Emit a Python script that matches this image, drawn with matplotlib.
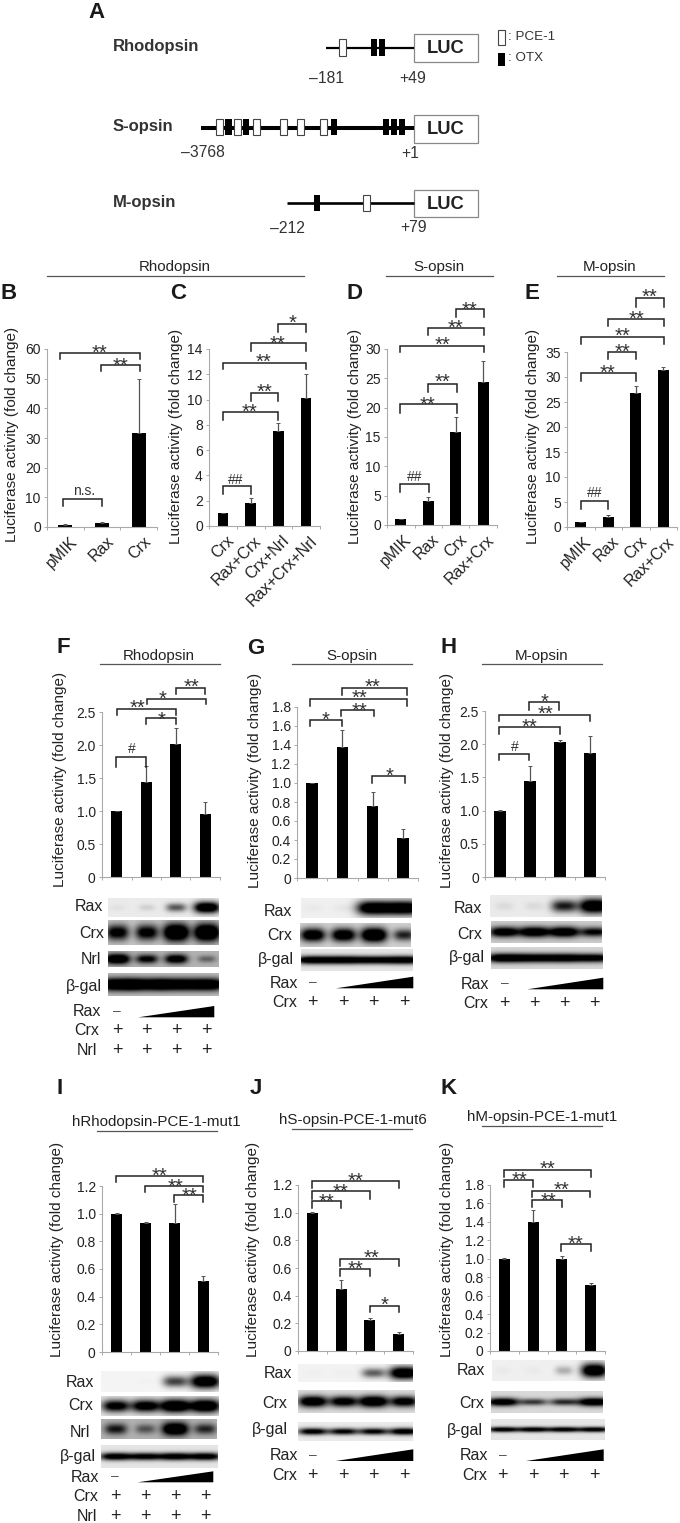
import numpy as np
import matplotlib
matplotlib.use("Agg")
import matplotlib.pyplot as plt
from matplotlib.patches import Rectangle, Polygon

plt.rcParams['font.family'] = ['Liberation Sans', 'DejaVu Sans']

W, H = 680, 1523
INK = '#222222'
AXIS = '#aaaaaa'

# -----------------------------
# Bar data
# -----------------------------
b_labels = ['pMIK', 'Rax', 'Crx']
b_vals = [0.7, 1.2, 31.8]
b_errs = [0.3, 0.6, 18.2]
b_ticks = [0, 10, 20, 30, 40, 50, 60]

c_labels = ['Crx', 'Rax+Crx', 'Crx+Nrl', 'Rax+Crx+Nrl']
c_vals = [1.0, 1.8, 7.55, 10.15]
c_errs = [0.02, 0.45, 0.6, 1.9]
c_ticks = [0, 2, 4, 6, 8, 10, 12, 14]

d_labels = ['pMIK', 'Rax', 'Crx', 'Rax+Crx']
d_vals = [1.0, 4.1, 15.8, 24.4]
d_errs = [0.02, 0.65, 2.6, 3.6]
d_ticks = [0, 5, 10, 15, 20, 25, 30]

e_labels = ['pMIK', 'Rax', 'Crx', 'Rax+Crx']
e_vals = [1.0, 2.1, 26.8, 31.5]
e_errs = [0.02, 0.25, 1.4, 0.5]
e_ticks = [0, 5, 10, 15, 20, 25, 30, 35]

f_vals = [1.0, 1.44, 2.01, 0.95]
f_errs = [0.005, 0.24, 0.25, 0.18]
f_ticks = ['0', '0.5', '1.0', '1.5', '2.0', '2.5']

g_vals = [1.0, 1.38, 0.76, 0.42]
g_errs = [0.005, 0.18, 0.15, 0.1]
g_ticks = ['0', '0.2', '0.4', '0.6', '0.8', '1.0', '1.2', '1.4', '1.6', '1.8']

h_vals = [1.0, 1.44, 2.03, 1.86]
h_errs = [0.005, 0.23, 0.03, 0.27]
h_ticks = ['0', '0.5', '1.0', '1.5', '2.0', '2.5']

i_vals = [1.0, 0.93, 0.93, 0.515]
i_errs = [0.002, 0.012, 0.14, 0.035]
i_ticks = ['0', '0.2', '0.4', '0.6', '0.8', '1.0', '1.2']

j_vals = [1.0, 0.45, 0.225, 0.125]
j_errs = [0.002, 0.065, 0.01, 0.012]
j_ticks = ['0', '0.2', '0.4', '0.6', '0.8', '1.0', '1.2']

k_vals = [1.0, 1.4, 1.0, 0.715]
k_errs = [0.005, 0.13, 0.025, 0.025]
k_ticks = ['0', '0.2', '0.4', '0.6', '0.8', '1.0', '1.2', '1.4', '1.6', '1.8']

# band strength per lane on the blots
f_blots = {'Rax': [0.03, 0.08, 0.45, 1.0], 'Crx': [0.7, 0.7, 1.0, 1.0],
           'Nrl': [0.85, 0.6, 0.7, 0.25], 'gal': [0.95, 0.9, 0.9, 0.9]}
g_blots = {'Rax': [0.02, 0.03, 1.0, 1.0], 'Crx': [0.85, 0.85, 1.0, 0.55],
           'gal': [0.9, 0.9, 0.85, 0.9]}
h_blots = {'Rax': [0.05, 0.05, 0.65, 1.0], 'Crx': [0.8, 0.85, 0.85, 0.65],
           'gal': [0.9, 0.85, 0.85, 0.8]}
i_blots = {'Rax': [0.0, 0.01, 0.55, 1.0], 'Crx': [0.8, 0.85, 1.0, 1.0],
           'Nrl': [0.5, 0.3, 0.85, 0.45], 'gal': [0.85, 0.8, 0.85, 0.85]}
j_blots = {'Rax': [0.01, 0.01, 0.45, 1.0], 'Crx': [0.9, 0.8, 0.95, 0.8],
           'gal': [0.8, 0.75, 0.75, 0.85]}
k_blots = {'Rax': [0.02, 0.02, 0.2, 1.0], 'Crx': [0.85, 0.5, 0.55, 0.9],
           'gal': [0.8, 0.8, 0.8, 0.8]}

fig = plt.figure(figsize=(W / 100, H / 100), dpi=100, facecolor='white')

# overlay in pixel coordinates for the annotations
ov = fig.add_axes([0, 0, 1, 1], zorder=5)
ov.set_xlim(0, W)
ov.set_ylim(H, 0)
ov.axis('off')


def txt(x, y, s, size=9.5, ha='center', va='center', color=INK, **kw):
    ov.text(x, y, s, fontsize=size, ha=ha, va=va, color=color, **kw)


def letter(x, y, s):
    txt(x, y, s, size=16, ha='left', weight='bold', color='#1a1a1a')


def header(cx, cy, s, x0, x1, ly):
    txt(cx, cy, s, size=10.9)
    ov.plot([x0, x1], [ly, ly], color='#555555', lw=0.9)


def bar_panel(x0, x1, ytop, y0, vals, errs, ymax, ticks, ylab_x, ylab_y, labels=None):
    ax = fig.add_axes([x0 / W, 1 - y0 / H, (x1 - x0) / W, (y0 - ytop) / H])
    n = len(vals)
    xs = np.arange(n) + 0.5
    ax.bar(xs, vals, width=0.385, color='black')
    ax.errorbar(xs, vals, yerr=[np.zeros(n), errs], fmt='none', ecolor='#555555',
                elinewidth=0.9, capsize=1.5, capthick=0.7)
    ax.set_xlim(0, n)
    ax.set_ylim(0, ymax)
    vals_t = [float(t) for t in ticks]
    ax.set_yticks(vals_t)
    ax.set_yticklabels([str(t) for t in ticks], fontsize=10, color=INK)
    ax.set_xticks(np.arange(n + 1))
    ax.set_xticklabels([])
    ax.tick_params(axis='both', length=2.5, width=0.7, color=AXIS, pad=2)
    for s in ['top', 'right']:
        ax.spines[s].set_visible(False)
    for s in ['left', 'bottom']:
        ax.spines[s].set_color(AXIS)
        ax.spines[s].set_linewidth(0.8)
    if labels:
        for x, lab in zip(xs, labels):
            ax.annotate(lab, (x + 0.12, 0), xytext=(0, -5), textcoords='offset points',
                        rotation=45, ha='right', va='top', rotation_mode='anchor',
                        fontsize=11.5, color=INK, annotation_clip=False)
    txt(ylab_x, ylab_y, 'Luciferase activity (fold change)', size=11, rotation=90)
    return ax


def bracket(x0, x1, y, yb, lab, lx, ly):
    ov.plot([x0, x0, x1, x1], [yb, y, y, yb], color='#222222', lw=1.1, solid_joinstyle='miter')
    if '*' in lab:
        ov.text(lx, ly + 11.5, lab, fontsize=14.5, ha='center', va='baseline', color='#333333')
    else:
        txt(lx, ly, lab, size=10, color='#333333')


def blot(x0, x1, y0, y1, lanes, strength, bg=0.12, sig=0.26, y_c=0.5, hw=13.0):
    # blurred horizontal bands on a light grey ground
    xx = np.arange(x0, x1, 0.5)
    yy = np.linspace(0, 1, 60)
    dark = np.zeros((len(yy), len(xx)))
    for lx, s in zip(lanes, strength):
        gx = np.exp(-np.abs((xx - lx) / (hw * (0.6 + 0.4 * s))) ** 3)
        gy = np.exp(-((yy - y_c) / (sig * (0.55 + 0.45 * s))) ** 2)
        dark += 1.3 * s * np.outer(gy, gx)
    img = 1 - np.clip(bg + dark, 0, 1)
    ov.imshow(img, extent=[x0, x1, y1, y0], cmap='gray', vmin=0, vmax=1, aspect='auto',
              interpolation='bilinear', zorder=1)
    ov.set_xlim(0, W)
    ov.set_ylim(H, 0)


def wedge(x0, x1, yt, yb):
    ov.add_patch(Polygon([[x0, yb], [x1, yt], [x1, yb]], closed=True, fc='black', ec='none'))


def treat_rows(rows, plus_xs, dash_x, wedge_box):
    # rows: (label, right edge, y); the first row carries the wedge
    lab, rx, y = rows[0]
    txt(rx, y, lab, size=11.5, ha='right')
    txt(dash_x, y - 1, '\u2013', size=10, color='#555555')
    wedge(*wedge_box)
    for lab, rx, y in rows[1:]:
        txt(rx, y, lab, size=11.5, ha='right')
        for px in plus_xs:
            txt(px, y, '+', size=13)


# -----------------------------
# Panel A: promoter constructs
# -----------------------------
letter(88, 12, 'A')


def construct(name, name_y, line_x0, line_y, lw, box_y0, box_y1, el_y0, el_y1, pce, otx):
    txt(112.7, name_y, name, size=12, ha='left', weight='bold', color='#333333')
    ov.plot([line_x0, 414], [line_y, line_y], color='black', lw=lw, solid_capstyle='butt')
    ov.add_patch(Rectangle((414, box_y0), 64, box_y1 - box_y0, fc='white', ec='#888888', lw=0.9))
    txt(446, (box_y0 + box_y1) / 2 + 0.5, 'LUC', size=13.2, weight='bold', color='#222222')
    for a, b in pce:
        ov.add_patch(Rectangle((a, el_y0), b - a, el_y1 - el_y0, fc='white', ec='#444444', lw=0.8, zorder=3))
    for a, b in otx:
        ov.add_patch(Rectangle((a, el_y0), b - a, el_y1 - el_y0, fc='black', ec='none', zorder=3))


construct('Rhodopsin', 46, 325.7, 47.7, 1.6, 34, 62, 39.3, 56,
          [(339.3, 345.7)], [(371, 376.7), (379.3, 385.3)])
construct('S-opsin', 126, 200.7, 128, 2.9, 115, 143, 119.3, 135.3,
          [(216, 222.7), (234.3, 241), (253.3, 260), (280.3, 286.7), (297, 303.7), (320.3, 327)],
          [(225, 231.7), (242.7, 249), (331, 337), (382.7, 388.7), (390.7, 396.7), (399.3, 405)])
construct('M-opsin', 202.7, 287.3, 202.7, 1.9, 190, 217, 195, 210.7,
          [(363.3, 369.7)], [(314.3, 320)])
for x, y, s in [(326.7, 78, '\u2013181'), (412.3, 78, '+49'), (203.3, 152.7, '\u20133768'),
                (410, 153, '+1'), (287.3, 228.7, '\u2013212'), (413.3, 227, '+79')]:
    txt(x, y, s, size=11.3, color='#333333')
ov.add_patch(Rectangle((498.3, 30), 6.4, 15.3, fc='white', ec='#444444', lw=0.8))
ov.add_patch(Rectangle((498.3, 52.7), 6.4, 13.3, fc='black', ec='none'))
txt(508.3, 36.7, ': PCE-1', size=9.6, ha='left', color='#333333')
txt(508.3, 58.3, ': OTX', size=9.6, ha='left', color='#333333')

# -----------------------------
# Panels B-E: reporter assays
# -----------------------------
header(175, 267, 'Rhodopsin', 46.7, 304, 276)
header(439.3, 267, 'S-opsin', 386, 492.7, 276)
header(610, 267, 'M-opsin', 557.3, 664, 276)
letter(1, 293, 'B')
letter(170, 293, 'C')
letter(346.7, 293, 'D')
letter(524, 293, 'E')

bar_panel(47, 157, 349, 527, b_vals, b_errs, 60, b_ticks, 12.3, 434, b_labels)
bar_panel(209, 320, 349, 526, c_vals, c_errs, 14, c_ticks, 175.7, 436.7, c_labels)
bar_panel(387, 497, 349, 525, d_vals, d_errs, 30, d_ticks, 355, 436.7, d_labels)
bar_panel(567, 677, 352, 527, e_vals, e_errs, 35, e_ticks, 533.3, 436.7, e_labels)

for br in [(60.3, 140.3, 353, 358.7, '**', 100, 347.7),
           (100.7, 140, 365.3, 371, '**', 120.7, 360),
           (63.3, 102.3, 499.3, 505.7, 'n.s.', 84, 490.7),
           (278.3, 305.7, 324, 331.7, '*', 292.7, 317),
           (250.7, 305.7, 343.3, 350.7, '**', 278, 338.3),
           (222.7, 305.7, 362.7, 368.7, '**', 264, 356),
           (250.7, 278.3, 392.7, 400.7, '**', 264.3, 386.7),
           (223.3, 278.3, 412, 420, '**', 249.3, 406.7),
           (223.3, 250.7, 486, 494.3, '##', 236, 480),
           (456, 483.7, 308.7, 316.7, '**', 470, 304),
           (428.3, 483.7, 328, 335.3, '**', 456, 322.3),
           (400.3, 483.7, 345.7, 352.3, '**', 442.7, 339.3),
           (428.3, 457, 383.7, 392, '**', 442.7, 376.7),
           (400.3, 457, 404.3, 412.7, '**', 427.3, 399),
           (400.3, 429, 484, 492, '##', 414.3, 477.3),
           (636, 663.7, 298.3, 306.7, '**', 649, 291.7),
           (608.3, 663.7, 318.7, 326, '**', 636.3, 313.3),
           (580.7, 663.7, 336.7, 344, '**', 622.7, 330),
           (608.3, 636.3, 351.7, 359.3, '**', 622.7, 346.7),
           (580.7, 636.3, 372.7, 380.7, '**', 607.3, 367.3),
           (580.7, 608.3, 501, 509, '##', 594.3, 492.7)]:
    bracket(*br)

# -----------------------------
# Panels F-H: titration with blots
# -----------------------------
header(159, 656, 'Rhodopsin', 100, 220, 664)
header(352, 656, 'S-opsin', 292.3, 412.3, 664)
header(541.7, 656, 'M-opsin', 482.3, 602, 664)
letter(56.7, 647, 'F')
letter(247, 648, 'G')
letter(440, 647, 'H')

bar_panel(102, 220, 712, 877, f_vals, f_errs, 2.5, f_ticks, 60, 779)
bar_panel(297, 418, 707, 878, g_vals, g_errs, 1.8, g_ticks, 255, 780)
bar_panel(485, 605, 711, 877, h_vals, h_errs, 2.5, h_ticks, 446.7, 780)

for br in [(175.7, 205, 688, 694, '**', 191, 681.7),
           (146.7, 206, 698.7, 704, '*', 162.7, 693.3),
           (116.7, 175.7, 708.7, 715, '**', 137.3, 702.7),
           (146, 175.7, 718.3, 724.3, '*', 162, 714),
           (116.3, 146, 756.7, 766.7, '#', 131.7, 749.3),
           (342, 407.3, 687.7, 695, '**', 372.3, 681.7),
           (310, 407.3, 699, 705.7, '**', 359.3, 692.5),
           (341.3, 374.3, 709.7, 715.7, '**', 359, 705),
           (310, 342, 719.7, 726, '*', 326, 714),
           (372.3, 405, 776, 783.3, '*', 389.3, 770.7),
           (529, 559.3, 702, 710, '*', 545, 696),
           (499, 590, 714.7, 720.7, '**', 545, 708.5),
           (499, 560, 726.7, 734, '**', 529.3, 721.5),
           (499.3, 529.3, 753.7, 760, '#', 515.3, 746.7)]:
    bracket(*br)

f_lanes = [117.3, 146.7, 176, 206.7]
blot(108, 219, 898, 917, f_lanes, f_blots['Rax'], bg=0.08, sig=0.3)
blot(108, 219, 920, 945, f_lanes, f_blots['Crx'], bg=0.22, sig=0.36)
blot(108, 219, 951, 967, f_lanes, f_blots['Nrl'], bg=0.3, sig=0.34)
blot(108, 219, 973, 996, f_lanes, f_blots['gal'], bg=0.25, sig=0.28, hw=18)
for s, rx, y in [('Rax', 102.7, 906.7), ('Crx', 104, 933), ('Nrl', 101, 959), ('\u03b2-gal', 102, 986)]:
    txt(rx, y, s, size=11.5, ha='right')
treat_rows([('Rax', 100.7, 1011.7), ('Crx', 99, 1030.7), ('Nrl', 97, 1050.7)], f_lanes, 117, (138.3, 214.3, 1006, 1017.3))

g_lanes = [312.7, 343.3, 373.7, 404]
blot(301, 412, 898, 918, g_lanes, g_blots['Rax'], bg=0.06, sig=0.36, hw=17)
blot(300, 411, 923, 947, g_lanes, g_blots['Crx'], bg=0.18, sig=0.3)
blot(301, 413, 949, 971, g_lanes, g_blots['gal'], bg=0.1, sig=0.2, hw=18)
for s, rx, y in [('Rax', 292, 911.7), ('Crx', 291.7, 935), ('\u03b2-gal', 294, 959.3)]:
    txt(rx, y, s, size=11.5, ha='right')
treat_rows([('Rax', 298.3, 983.3), ('Crx', 297.3, 1002.7)], g_lanes, 313.3, (336, 413.3, 976.7, 988.3))

h_lanes = [504, 534, 564, 594]
blot(490, 602, 895, 917, h_lanes, h_blots['Rax'], bg=0.08, sig=0.34, hw=15)
blot(491, 602, 921, 943, h_lanes, h_blots['Crx'], bg=0.2, sig=0.26, hw=16)
blot(491, 603, 947, 969, h_lanes, h_blots['gal'], bg=0.16, sig=0.22, hw=18)
for s, rx, y in [('Rax', 481.7, 908.3), ('Crx', 482.3, 934), ('\u03b2-gal', 485, 957.3)]:
    txt(rx, y, s, size=11.5, ha='right')
treat_rows([('Rax', 489, 984), ('Crx', 487.7, 1003.3)], h_lanes, 505, (527.3, 603.3, 977.7, 989.3))

# -----------------------------
# Panels I-K: mutated PCE-1
# -----------------------------
header(156.3, 1122, 'hRhodopsin-PCE-1-mut1', 96.7, 216.7, 1131)
header(352.7, 1120, 'hS-opsin-PCE-1-mut6', 292.3, 412.3, 1129)
header(541.7, 1117, 'hM-opsin-PCE-1-mut1', 482.3, 602, 1126)
letter(57, 1088, 'I')
letter(250, 1088, 'J')
letter(440, 1088, 'K')

bar_panel(102, 218, 1186, 1352, i_vals, i_errs, 1.2, i_ticks, 56.7, 1249)
bar_panel(298, 413, 1185, 1351, j_vals, j_errs, 1.2, j_ticks, 253.3, 1249)
bar_panel(490, 605, 1185, 1351, k_vals, k_errs, 1.8, k_ticks, 447.3, 1249)

for br in [(116, 203.3, 1176, 1182.3, '**', 159.3, 1170),
           (145.3, 203.3, 1185.7, 1191.7, '**', 175, 1181),
           (174.3, 203.3, 1195.3, 1201.7, '**', 190, 1190.7),
           (311.7, 399, 1181, 1188.3, '**', 355, 1175.7),
           (311.7, 370, 1191, 1198.7, '**', 340.7, 1186.3),
           (311.7, 340.7, 1201, 1208.3, '**', 326.7, 1196),
           (340.3, 399, 1258.7, 1266, '**', 371, 1252.7),
           (340.3, 370, 1268.7, 1276, '**', 356, 1263.3),
           (369.7, 399, 1305.7, 1311.7, '*', 384.3, 1299),
           (504, 591, 1170, 1176.7, '**', 547.7, 1163.3),
           (504, 532.7, 1180, 1186.7, '**', 519.3, 1174),
           (532.3, 590.3, 1190.7, 1197.3, '**', 561, 1184.3),
           (532.3, 561.7, 1200.3, 1207.3, '**', 548.7, 1195),
           (561, 591, 1244, 1251, '**', 576, 1238.3)]:
    bracket(*br)

i_lanes = [115.7, 145.3, 175, 205]
blot(101, 219, 1371, 1392, i_lanes, i_blots['Rax'], bg=0.04, sig=0.34, hw=15)
blot(101, 219, 1396, 1416, i_lanes, i_blots['Crx'], bg=0.1, sig=0.34, hw=15)
blot(101, 217, 1419, 1439, i_lanes, i_blots['Nrl'], bg=0.3, sig=0.36, hw=14)
blot(101, 218, 1445, 1468, i_lanes, i_blots['gal'], bg=0.1, sig=0.18, hw=17)
for s, rx, y in [('Rax', 94.3, 1382.3), ('Crx', 93.3, 1405.7), ('Nrl', 90, 1432.3), ('\u03b2-gal', 96, 1456)]:
    txt(rx, y, s, size=11.5, ha='right')
treat_rows([('Rax', 99.3, 1477.3), ('Crx', 98.3, 1496.7), ('Nrl', 96.7, 1516.7)], i_lanes, 115, (137.7, 213.3, 1471.3, 1482.3))

j_lanes = [312.7, 343.3, 373.3, 404]
blot(298, 413, 1364, 1382, j_lanes, j_blots['Rax'], bg=0.05, sig=0.36, hw=15)
blot(298, 415, 1390, 1413, j_lanes, j_blots['Crx'], bg=0.14, sig=0.26, hw=15)
blot(298, 413, 1422, 1441, j_lanes, j_blots['gal'], bg=0.08, sig=0.2, hw=16)
for s, rx, y in [('Rax', 291.7, 1373.3), ('Crx', 286.7, 1404), ('\u03b2-gal', 288.3, 1429.3)]:
    txt(rx, y, s, size=11.5, ha='right')
treat_rows([('Rax', 297.7, 1456), ('Crx', 296.7, 1476)], j_lanes, 312.7, (335.7, 413.3, 1449.3, 1461))

k_lanes = [502.7, 533.3, 563.7, 594]
blot(492, 605, 1360, 1381, k_lanes, k_blots['Rax'], bg=0.06, sig=0.34, hw=13)
blot(491, 603, 1391, 1413, k_lanes, k_blots['Crx'], bg=0.15, sig=0.2, hw=17)
blot(491, 605, 1419, 1440, k_lanes, k_blots['gal'], bg=0.1, sig=0.14, hw=17)
for s, rx, y in [('Rax', 485, 1370.7), ('Crx', 483.7, 1404), ('\u03b2-gal', 483.3, 1430.7)]:
    txt(rx, y, s, size=11.5, ha='right')
treat_rows([('Rax', 488.3, 1455.7), ('Crx', 487.3, 1476)], k_lanes, 503.3, (526, 603.7, 1449.3, 1461))

fig.savefig('out.png', dpi=100)
